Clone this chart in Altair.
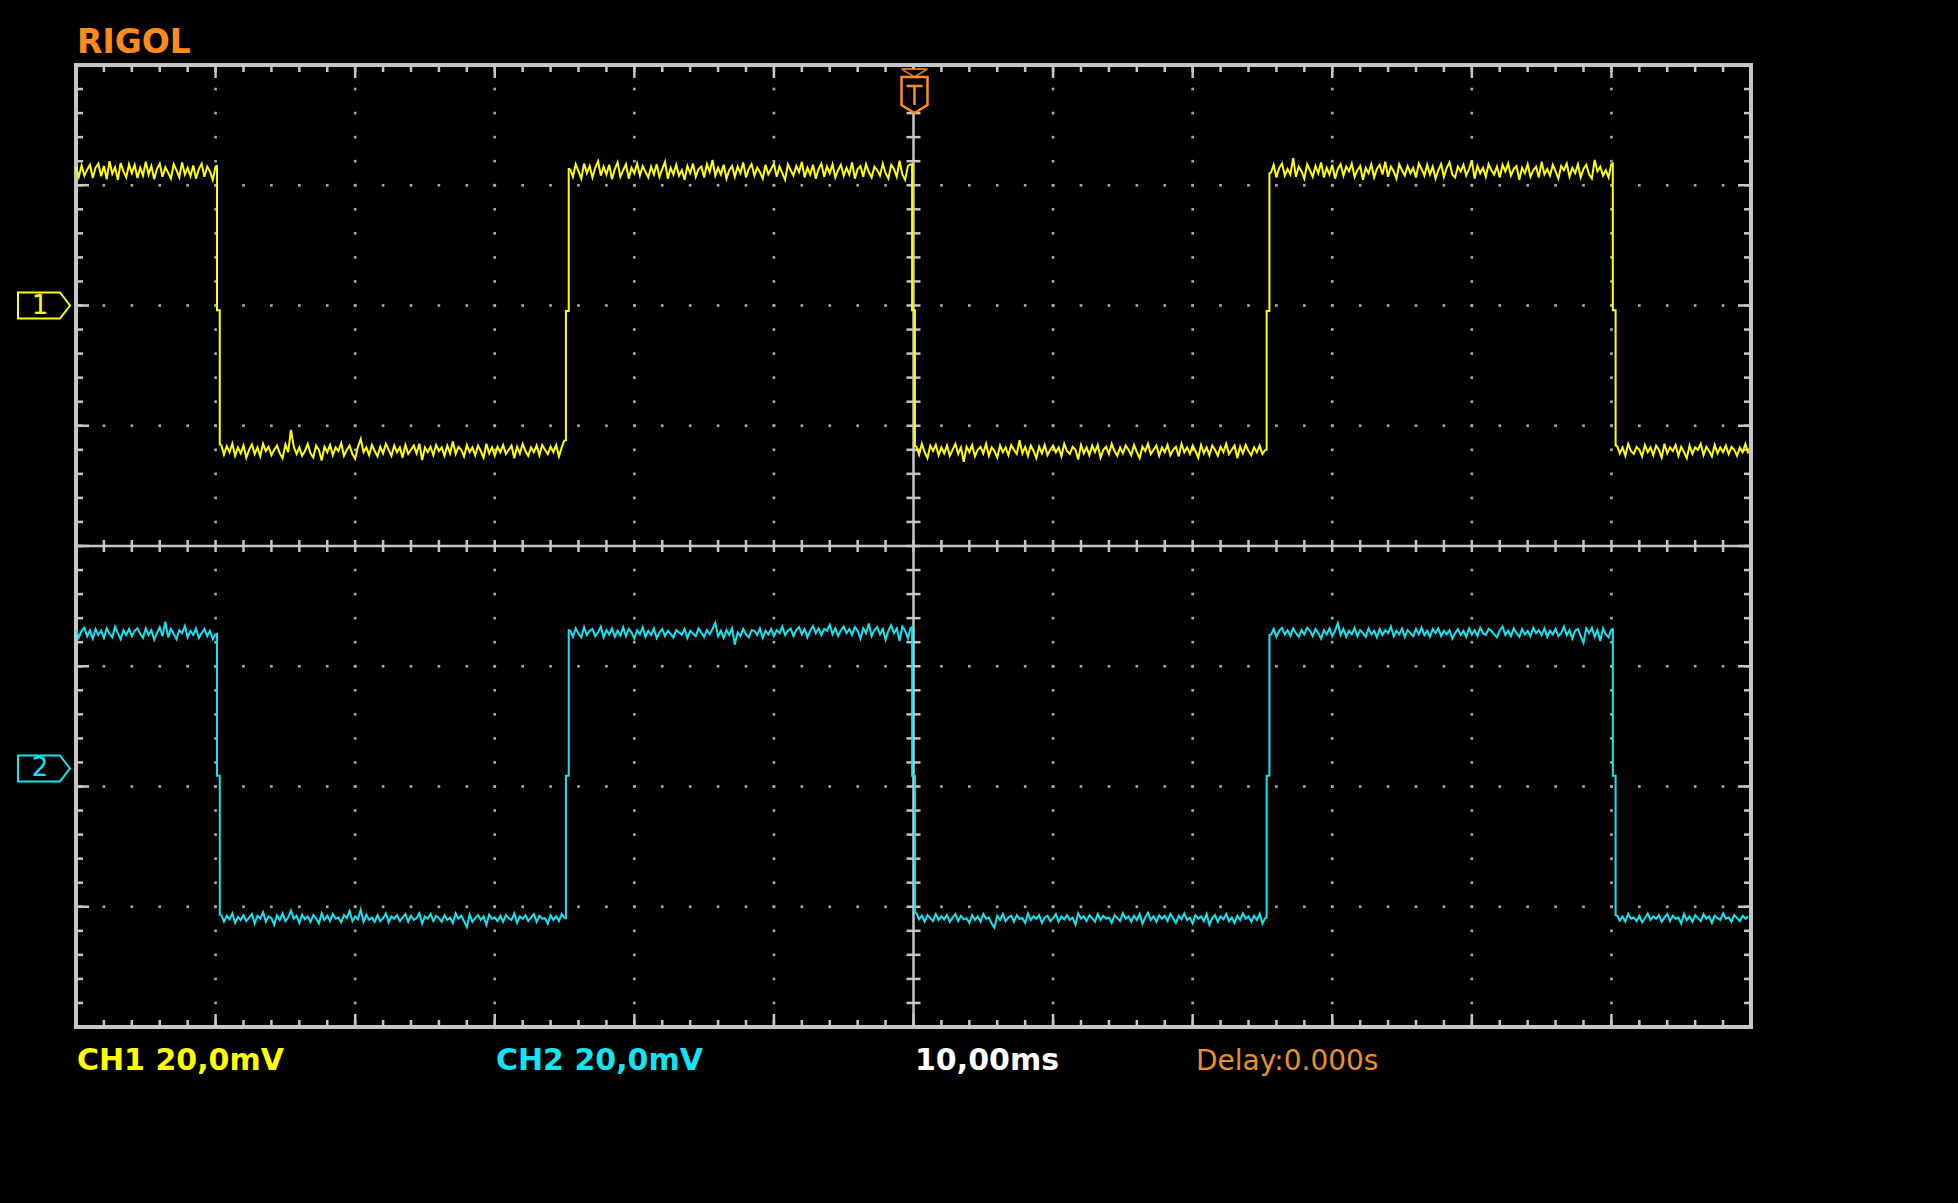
import altair as alt
import pandas as pd

# ---------------- acquisition settings ----------------
T_START_MS = -60.0          # left edge of screen (12 div x 10 ms)
SAMPLE_MS = 0.2             # one displayed sample every 0.2 ms
MV_PER_DIV = 20.0           # CH1 / CH2 vertical scale
CH1_OFFSET_DIV = 2.0        # ground marker of CH1 (divisions from centre)
CH2_OFFSET_DIV = -1.85      # ground marker of CH2

# ---------------- CH1 samples (mV) ----------------
CH1_MV = [
    # high
    23.0, 21.4, 23.3, 21.6, 22.6, 23.4, 21.2, 22.9, 23.6, 21.5,
    23.2, 21.0, 24.0, 21.9, 23.0, 20.9, 23.7, 22.3, 21.3, 23.5,
    22.0, 23.4, 21.2, 22.9, 21.6, 23.9, 21.8, 23.2, 21.0, 22.7,
    23.6, 21.4, 23.0, 22.1, 21.1, 23.5, 22.5, 21.3, 23.8, 21.8,
    22.9, 21.5, 23.3, 21.1, 22.7, 23.6, 21.4, 23.1, 22.3, 20.9,
    23.2,
    -0.8,
    # low
    -23.1, -24.8, -23.4, -24.4, -23.0, -25.0, -23.6, -24.6, -23.3, -25.3,
    -24.0, -23.1, -24.7, -23.6, -25.1, -23.0, -24.2, -23.5, -24.9, -24.0,
    -23.3, -24.6, -25.4, -23.1, -24.4, -20.7, -23.5, -24.7, -23.6, -25.0,
    -24.2, -23.0, -24.6, -25.3, -23.3, -24.0, -25.8, -23.5, -24.4, -23.2,
    -24.9, -23.6, -24.2, -22.9, -25.0, -24.0, -23.3, -24.7, -25.5, -23.5,
    -22.2, -24.4, -23.6, -24.9, -23.2, -24.2, -25.1, -23.5, -24.6, -23.0,
    -24.0, -25.0, -23.3, -24.4, -23.6, -25.3, -23.2, -24.7, -24.0, -23.3,
    -24.6, -23.0, -25.7, -23.6, -24.4, -23.5, -24.9, -23.2, -24.2, -23.6,
    -25.0, -23.3, -24.6, -22.6, -24.7, -23.5, -24.0, -25.1, -23.2, -24.4,
    -23.6, -24.9, -23.3, -24.2, -25.3, -23.0, -24.6, -23.6, -25.0, -23.5,
    -24.4, -23.2, -24.7, -24.0, -23.3, -25.4, -23.5, -24.6, -23.0, -24.2,
    -25.0, -23.6, -24.4, -23.3, -24.9, -23.2, -24.0, -24.7, -23.5, -24.4,
    -23.2, -25.1, -23.6, -22.4,
    -0.9,
    # high
    22.7, 21.4, 23.5, 22.3, 21.1, 23.6, 22.0, 23.2, 21.3, 22.9,
    24.0, 21.6, 23.1, 21.8, 23.4, 21.0, 22.7, 23.8, 21.4, 22.5,
    23.5, 21.1, 22.9, 22.0, 23.6, 21.6, 23.2, 22.2, 21.3, 23.1,
    21.8, 23.5, 21.4, 22.7, 23.9, 21.1, 22.9, 21.8, 23.4, 21.6,
    22.5, 20.9, 23.2, 22.0, 23.6, 21.4, 22.7, 23.1, 21.3, 23.5,
    22.2, 24.2, 21.6, 22.9, 21.8, 23.4, 21.1, 22.5, 23.2, 21.4,
    23.1, 22.0, 23.8, 21.3, 22.7, 23.5, 21.6, 22.9, 22.2, 21.1,
    23.4, 21.8, 22.7, 23.6, 21.4, 23.1, 22.0, 20.9, 23.5, 22.5,
    21.6, 23.2, 22.2, 23.9, 21.3, 22.9, 21.8, 23.4, 21.1, 22.7,
    23.6, 21.4, 23.1, 22.0, 23.5, 21.3, 22.5, 23.4, 21.6, 22.9,
    21.8, 23.8, 21.1, 22.7, 23.2, 21.4, 23.5, 22.2, 21.3, 23.1,
    22.5, 21.6, 23.6, 22.0, 21.1, 23.4, 22.7, 21.4, 24.1, 21.8,
    20.9, 23.2, 23.5,
    -0.8,
    # low
    -23.4, -24.8, -23.0, -24.4, -25.4, -23.3, -24.2, -23.2, -24.9, -23.6,
    -24.6, -23.3, -25.0, -24.0, -23.0, -24.7, -23.6, -26.0, -23.5, -24.4,
    -23.2, -25.1, -24.0, -23.5, -24.6, -23.0, -25.0, -23.6, -24.2, -25.3,
    -23.3, -24.4, -23.6, -24.9, -23.2, -24.0, -24.7, -22.4, -24.6, -23.5,
    -25.0, -23.3, -24.2, -25.4, -23.5, -24.6, -23.2, -24.9, -24.0, -23.3,
    -24.4, -23.6, -25.1, -23.0, -24.2, -24.7, -23.5, -24.0, -25.6, -23.2,
    -24.6, -23.6, -24.9, -23.3, -24.4, -23.2, -25.3, -24.0, -23.5, -24.7,
    -23.0, -24.2, -25.0, -23.6, -24.6, -23.3, -24.0, -24.9, -23.2, -24.4,
    -25.4, -23.5, -24.2, -23.0, -24.7, -24.0, -23.3, -25.0, -23.6, -24.4,
    -23.2, -24.9, -24.0, -23.5, -25.1, -23.0, -24.4, -23.6, -24.7, -23.3,
    -24.2, -25.3, -23.2, -24.6, -23.6, -24.9, -23.3, -24.0, -25.0, -23.5,
    -24.4, -23.0, -24.7, -24.0, -23.3, -25.4, -23.5, -24.6, -23.2, -24.2,
    -24.9, -23.6, -24.4, -23.3, -24.7, -24.0,
    -0.9,
    # high
    22.0, 23.4, 21.3, 22.9, 23.6, 21.6, 22.7, 21.8, 24.5, 21.4,
    23.1, 22.3, 21.1, 23.5, 22.5, 21.4, 23.2, 22.0, 23.8, 21.3,
    22.9, 21.8, 23.4, 21.1, 22.7, 23.5, 21.6, 23.1, 22.3, 23.6,
    21.4, 22.5, 23.2, 20.9, 22.9, 22.0, 23.5, 21.3, 22.7, 23.4,
    21.8, 23.9, 21.4, 23.1, 22.3, 21.1, 23.5, 22.5, 21.6, 23.2,
    22.0, 22.9, 21.3, 23.6, 22.7, 21.6, 23.4, 21.8, 23.1, 21.1,
    22.5, 23.5, 21.4, 22.9, 23.8, 21.8, 21.3, 23.1, 22.3, 23.4,
    21.6, 22.7, 24.1, 21.1, 23.2, 22.0, 22.9, 21.4, 23.5, 22.5,
    21.8, 23.1, 21.3, 23.4, 22.3, 23.6, 21.6, 22.7, 23.2, 20.9,
    22.9, 22.0, 23.5, 21.4, 22.5, 23.1, 21.3, 23.9, 21.8, 22.7,
    21.6, 23.4, 22.3, 21.1, 23.2, 22.5, 23.6, 21.4, 22.9, 22.0,
    23.5, 21.3, 22.7, 23.4, 21.8, 21.1, 24.2, 22.3, 23.1, 21.6,
    22.5, 21.3, 23.6,
    -0.8,
    # low
    -23.3, -24.6, -23.6, -25.0, -23.0, -24.2, -24.7, -23.5, -24.0, -25.1,
    -23.2, -24.4, -23.6, -24.9, -23.3, -24.0, -25.3, -23.0, -24.6, -23.6,
    -24.2, -23.2, -25.0, -23.5, -24.4, -25.4, -23.3, -24.7, -23.6, -24.0,
    -23.0, -24.9, -23.5, -24.2, -25.1, -23.2, -24.6, -23.6, -24.4, -23.3,
    -24.7, -23.5, -24.0, -25.0, -23.6, -24.4, -23.0, -24.6,
]

# ---------------- CH2 samples (mV) ----------------
CH2_MV = [
    # high
    23.1, 21.8, 22.9, 23.4, 22.0, 23.0, 21.6, 23.2, 22.2, 22.9,
    21.7, 23.3, 22.4, 21.8, 23.6, 22.5, 21.5, 23.0, 22.2, 23.2,
    22.0, 22.9, 23.3, 22.4, 21.7, 23.3, 22.2, 23.0, 21.4, 22.5,
    23.5, 22.0, 24.4, 21.8, 23.2, 22.4, 21.5, 23.0, 22.5, 23.7,
    21.8, 22.9, 22.2, 23.3, 21.7, 22.5, 23.2, 22.0, 22.9, 21.5,
    22.4,
    -1.2,
    # low
    -24.3, -25.5, -24.5, -25.1, -24.1, -25.7, -24.7, -25.2, -24.4, -25.4,
    -24.8, -24.2, -25.8, -24.5, -25.0, -23.9, -25.5, -24.6, -24.9, -26.0,
    -24.4, -25.2, -24.1, -25.4, -24.8, -23.6, -25.0, -24.5, -25.7, -24.3,
    -25.1, -24.6, -25.5, -24.4, -24.9, -25.8, -24.1, -25.2, -24.5, -25.4,
    -24.2, -25.0, -24.8, -25.6, -24.4, -24.9, -23.7, -25.4, -24.6, -25.1,
    -23.5, -25.5, -24.3, -25.2, -24.8, -25.5, -24.4, -25.4, -24.9, -24.1,
    -25.6, -24.6, -25.0, -24.4, -25.4, -24.8, -24.2, -25.5, -24.5, -25.2,
    -24.9, -24.1, -25.8, -24.6, -25.0, -24.2, -25.4, -24.5, -24.9, -25.5,
    -24.4, -25.2, -24.8, -25.7, -24.1, -25.0, -24.5, -25.4, -26.4, -24.3,
    -25.5, -24.9, -24.4, -25.2, -24.6, -26.0, -24.3, -25.0, -24.8, -25.4,
    -24.5, -25.5, -24.4, -24.9, -25.2, -24.1, -25.7, -24.6, -25.0, -24.4,
    -25.4, -24.8, -24.2, -25.5, -24.5, -25.0, -24.9, -25.8, -24.4, -25.2,
    -24.6, -25.4, -24.2, -24.9,
    -1.2,
    # high
    23.0, 21.9, 23.3, 22.4, 21.8, 23.5, 22.2, 22.9, 23.2, 22.0,
    22.6, 23.6, 21.8, 23.0, 22.3, 23.3, 21.9, 22.9, 22.1, 23.5,
    22.0, 23.2, 22.6, 21.6, 23.0, 22.3, 23.5, 21.9, 22.9, 22.2,
    23.3, 21.7, 22.6, 23.2, 22.0, 22.9, 22.4, 21.8, 23.0, 22.6,
    22.2, 23.2, 21.7, 22.9, 22.4, 22.0, 23.3, 22.6, 21.9, 23.0,
    22.3, 23.2, 24.2, 22.0, 22.9, 21.7, 23.0, 22.2, 23.3, 20.6,
    22.6, 22.0, 23.2, 22.3, 21.8, 23.0, 22.9, 22.2, 23.3, 21.7,
    22.9, 22.3, 23.2, 22.0, 23.0, 22.5, 23.6, 22.2, 22.9, 23.3,
    22.0, 23.0, 23.5, 22.3, 23.2, 21.8, 22.9, 23.7, 22.5, 23.3,
    22.2, 23.2, 22.9, 23.9, 22.3, 23.3, 22.0, 23.0, 23.6, 22.5,
    23.2, 22.2, 23.5, 22.9, 21.6, 23.3, 22.5, 24.1, 22.0, 23.0,
    23.5, 22.3, 23.2, 21.4, 22.9, 23.8, 22.5, 23.3, 21.2, 23.6,
    22.9, 21.6, 23.5,
    -1.2,
    # low
    -24.0, -25.1, -24.5, -25.5, -24.4, -24.9, -25.4, -24.2, -25.2, -24.6,
    -25.1, -24.4, -25.5, -24.8, -24.2, -25.4, -24.5, -25.1, -24.9, -25.7,
    -24.4, -25.2, -24.6, -25.5, -24.2, -25.0, -24.8, -25.8, -26.5, -24.5,
    -25.2, -24.2, -25.4, -24.8, -24.5, -25.5, -24.4, -25.0, -24.9, -25.7,
    -24.1, -25.2, -24.6, -25.0, -24.4, -25.7, -24.8, -24.5, -25.4, -24.9,
    -24.2, -25.5, -24.6, -25.1, -24.4, -25.2, -24.8, -26.0, -24.1, -25.0,
    -24.6, -25.4, -24.4, -24.9, -25.5, -24.2, -25.2, -24.5, -25.0, -24.8,
    -25.7, -24.4, -24.9, -25.4, -24.1, -25.0, -24.6, -25.5, -24.5, -25.2,
    -24.2, -25.8, -24.8, -24.0, -25.2, -24.6, -25.5, -24.4, -25.0, -24.5,
    -25.4, -24.2, -24.9, -25.7, -24.5, -25.1, -24.1, -25.2, -24.8, -25.8,
    -24.4, -25.0, -24.6, -25.4, -24.2, -26.0, -24.9, -24.4, -25.5, -24.6,
    -25.1, -24.2, -25.4, -24.8, -25.7, -24.5, -25.2, -24.1, -25.0, -24.6,
    -25.5, -24.5, -25.2, -24.2, -25.8, -24.8,
    -1.2,
    # high
    22.2, 23.2, 21.9, 22.9, 23.4, 22.3, 23.0, 22.0, 23.3, 22.5,
    21.9, 23.0, 22.3, 23.4, 22.9, 22.0, 23.2, 22.5, 21.6, 23.0,
    22.3, 23.3, 22.0, 22.9, 24.2, 22.2, 23.2, 21.9, 22.9, 22.3,
    23.4, 22.0, 23.0, 22.5, 21.9, 23.3, 22.3, 22.9, 21.8, 23.2,
    22.2, 23.0, 22.5, 23.6, 22.0, 22.9, 22.3, 23.3, 21.9, 23.0,
    22.5, 22.0, 23.2, 22.3, 23.4, 22.2, 22.9, 21.9, 23.2, 22.5,
    23.3, 22.0, 22.9, 22.3, 23.0, 21.6, 22.5, 23.2, 22.2, 22.9,
    21.9, 23.3, 22.3, 23.0, 22.0, 23.4, 22.5, 22.2, 23.2, 22.9,
    22.3, 21.8, 23.0, 23.6, 22.2, 22.9, 22.0, 23.3, 22.5, 21.9,
    23.2, 22.3, 22.9, 22.0, 23.4, 22.5, 23.0, 22.2, 23.3, 21.9,
    22.9, 22.3, 23.2, 22.0, 22.5, 23.6, 22.2, 23.0, 21.6, 22.9,
    23.2, 22.0, 20.9, 23.3, 22.5, 23.4, 21.9, 23.0, 21.2, 23.3,
    22.3, 21.8, 23.2,
    -1.2,
    # low
    -24.4, -25.3, -24.6, -25.5, -24.2, -25.0, -24.8, -25.4, -24.5, -25.6,
    -24.9, -24.1, -25.2, -24.6, -25.0, -24.4, -25.5, -24.8, -24.2, -25.4,
    -24.5, -25.0, -24.8, -25.8, -24.2, -25.2, -24.6, -25.5, -24.4, -24.9,
    -25.4, -24.2, -25.0, -24.6, -25.7, -24.5, -24.9, -25.2, -24.1, -25.0,
    -24.8, -25.5, -24.4, -24.9, -25.4, -24.5, -25.0, -24.6,
]

# ---------------- labels ----------------
BRAND = "RIGOL"
CH1_LABEL = "CH1 20,0mV"
CH2_LABEL = "CH2 20,0mV"
TIMEBASE_LABEL = "10,00ms"
DELAY_LABEL = "Delay:0.000s"

# ---------------- styling ----------------
W, H = 1675, 962
YELLOW = "#ffff00"
CYAN = "#14e4f2"
ORANGE = "#ff8c1a"
DELAY_ORANGE = "#e8902a"
GRAY = "#c6c6c6"
DOT = "#a8a8a8"
FONT = "DejaVu Sans"

xs = alt.Scale(domain=[-60, 60], nice=False, zero=False)
ys = alt.Scale(domain=[-4, 4], nice=False, zero=False)

one = pd.DataFrame({"k": [0]})


def split_trace(values):
    """Sample table: plateau samples (drawn joined) and edge triples (drawn stepped)."""
    df = pd.DataFrame({
        "t": [T_START_MS + i * SAMPLE_MS for i in range(len(values))],
        "mv": values,
    })
    lvl = ["hi" if v > 10 else ("lo" if v < -10 else "mid") for v in df["mv"]]
    seg, s = [], 0
    for i, l in enumerate(lvl):
        if i > 0 and l != lvl[i - 1]:
            s += 1
        seg.append(s)
    df["lvl"] = lvl
    df["seg"] = seg
    plateau = df[df["lvl"] != "mid"].copy()
    edges = []
    for k, l in enumerate(lvl):
        if l == "mid" and 0 < k < len(lvl) - 1:
            for j in (k - 1, k, k + 1):
                edges.append({"t": df["t"][j], "mv": df["mv"][j], "seg": k})
    return plateau, pd.DataFrame(edges)


def trace(values, offset, color):
    plateau, edges = split_trace(values)
    calc = f"datum.mv / {MV_PER_DIV} + {offset}"
    a = alt.Chart(plateau).transform_calculate(yd=calc).mark_line(
        color=color, strokeWidth=2, interpolate="linear").encode(
        x=alt.X("t:Q", scale=xs, axis=None),
        y=alt.Y("yd:Q", scale=ys, axis=None),
        detail="seg:N", order="t:Q")
    b = alt.Chart(edges).transform_calculate(yd=calc).mark_line(
        color=color, strokeWidth=2, interpolate="step").encode(
        x=alt.X("t:Q", scale=xs, axis=None),
        y=alt.Y("yd:Q", scale=ys, axis=None),
        detail="seg:N", order="t:Q")
    return [a, b]


# graticule positions (minor = 1/5 div)
minor_x = [round(-60 + 2 * j, 1) for j in range(1, 60)]
minor_y = [round(-4 + 0.2 * j, 1) for j in range(1, 40)]
major_x = [v for v in minor_x if v % 10 == 0]
major_y = [v for v in minor_y if abs(v - round(v)) < 1e-9]

dots = []
for vx in major_x:
    if vx == 0:
        continue
    for vy in minor_y:
        dots.append({"x": vx, "y": vy})
for vy in major_y:
    if vy == 0:
        continue
    for vx in minor_x:
        dots.append({"x": vx, "y": vy})
dots_df = pd.DataFrame(dots)
mx_df = pd.DataFrame({"x": minor_x})
my_df = pd.DataFrame({"y": minor_y})
Mx_df = pd.DataFrame({"x": major_x})
My_df = pd.DataFrame({"y": major_y})

layers = []
layers.append(alt.Chart(dots_df).mark_square(size=7, color=DOT, opacity=1).encode(
    x=alt.X("x:Q", scale=xs, axis=None), y=alt.Y("y:Q", scale=ys, axis=None)))

# centre cross
zero_df = pd.DataFrame({"v": [0.0]})
layers.append(alt.Chart(zero_df).mark_rule(color=GRAY, strokeWidth=2.5).encode(
    x=alt.X("v:Q", scale=xs, axis=None)))
layers.append(alt.Chart(zero_df).mark_rule(color=GRAY, strokeWidth=2.5).encode(
    y=alt.Y("v:Q", scale=ys, axis=None)))
layers.append(alt.Chart(mx_df).mark_rule(color=GRAY, strokeWidth=2.5).encode(
    x=alt.X("x:Q", scale=xs, axis=None), y=alt.value(H / 2 - 6), y2=alt.value(H / 2 + 6)))
layers.append(alt.Chart(my_df).mark_rule(color=GRAY, strokeWidth=2.5).encode(
    y=alt.Y("y:Q", scale=ys, axis=None), x=alt.value(W / 2 - 7), x2=alt.value(W / 2 + 7)))

# border ticks
for df, L in ((mx_df, 7), (Mx_df, 13)):
    layers.append(alt.Chart(df).mark_rule(color=GRAY, strokeWidth=2.5).encode(
        x=alt.X("x:Q", scale=xs, axis=None), y=alt.value(0), y2=alt.value(L)))
    layers.append(alt.Chart(df).mark_rule(color=GRAY, strokeWidth=2.5).encode(
        x=alt.X("x:Q", scale=xs, axis=None), y=alt.value(H), y2=alt.value(H - L)))
for df, L in ((my_df, 7), (My_df, 13)):
    layers.append(alt.Chart(df).mark_rule(color=GRAY, strokeWidth=2.5).encode(
        y=alt.Y("y:Q", scale=ys, axis=None), x=alt.value(0), x2=alt.value(L)))
    layers.append(alt.Chart(df).mark_rule(color=GRAY, strokeWidth=2.5).encode(
        y=alt.Y("y:Q", scale=ys, axis=None), x=alt.value(W), x2=alt.value(W - L)))

# border
layers.append(alt.Chart(one).mark_rect(filled=False, stroke=GRAY, strokeWidth=4).encode(
    x=alt.value(0), x2=alt.value(W), y=alt.value(0), y2=alt.value(H)))

# traces
layers += trace(CH1_MV, CH1_OFFSET_DIV, YELLOW)
layers += trace(CH2_MV, CH2_OFFSET_DIV, CYAN)

# trigger position marker (top centre)
TX = W / 2 + 1
layers.append(alt.Chart(one).mark_point(
    shape="M-13,-21 L13,-21 L13,15 L0,23 L-13,15 Z", size=4, filled=True,
    fill="black", strokeWidth=0, opacity=1).encode(x=alt.value(TX), y=alt.value(25)))
layers.append(alt.Chart(one).mark_point(
    shape="M-13,-13 L13,-13 L13,15 L0,23 L-13,15 Z M-8,-4 L8,-4 M0,-4 L0,15",
    size=4, filled=False, stroke=ORANGE, strokeWidth=2.5, opacity=1).encode(
    x=alt.value(TX), y=alt.value(25)))
layers.append(alt.Chart(one).mark_point(
    shape="M-13,-21 L13,-21 M-13,-21 L0,-13 M13,-21 L0,-13",
    size=4, filled=False, stroke=ORANGE, strokeWidth=2, opacity=0.8).encode(
    x=alt.value(TX), y=alt.value(25)))


# channel ground markers
def ch_marker(offset, color, label):
    d = pd.DataFrame({"y": [offset]})
    box = alt.Chart(d).mark_point(
        shape="M-21,-13 L21,-13 L31,0 L21,13 L-21,13 Z", size=4, filled=False,
        stroke=color, strokeWidth=2, opacity=1).encode(
        x=alt.value(-37), y=alt.Y("y:Q", scale=ys, axis=None))
    txt = alt.Chart(d).mark_text(
        text=label, font=FONT, fontSize=26, fontWeight="normal", color=color,
        align="center", baseline="middle").encode(
        x=alt.value(-36), y=alt.Y("y:Q", scale=ys, axis=None))
    return [box, txt]


layers += ch_marker(CH1_OFFSET_DIV, YELLOW, "1")
layers += ch_marker(CH2_OFFSET_DIV, CYAN, "2")


# texts
def label(text, x, y, color, size, weight="bold"):
    return alt.Chart(one).mark_text(
        text=text, font=FONT, fontSize=size, fontWeight=weight, color=color,
        align="left", baseline="alphabetic").encode(x=alt.value(x), y=alt.value(y))


layers.append(label(BRAND, 1, -12, ORANGE, 33))
layers.append(label(CH1_LABEL, 1, 1005, YELLOW, 30))
layers.append(label(CH2_LABEL, 420, 1005, CYAN, 30))
layers.append(label(TIMEBASE_LABEL, 839, 1005, "#ffffff", 30))
layers.append(label(DELAY_LABEL, 1120, 1005, DELAY_ORANGE, 28, "normal"))

chart = alt.layer(*layers).properties(
    width=W, height=H,
    padding={"left": 76, "top": 65, "right": 1958 - 76 - W, "bottom": 1203 - 65 - H},
    autosize=alt.AutoSizeParams(type="none"),
    background="black",
).configure_view(stroke=None)

chart.save("out.html", embed_options={"renderer": "svg", "actions": False})
